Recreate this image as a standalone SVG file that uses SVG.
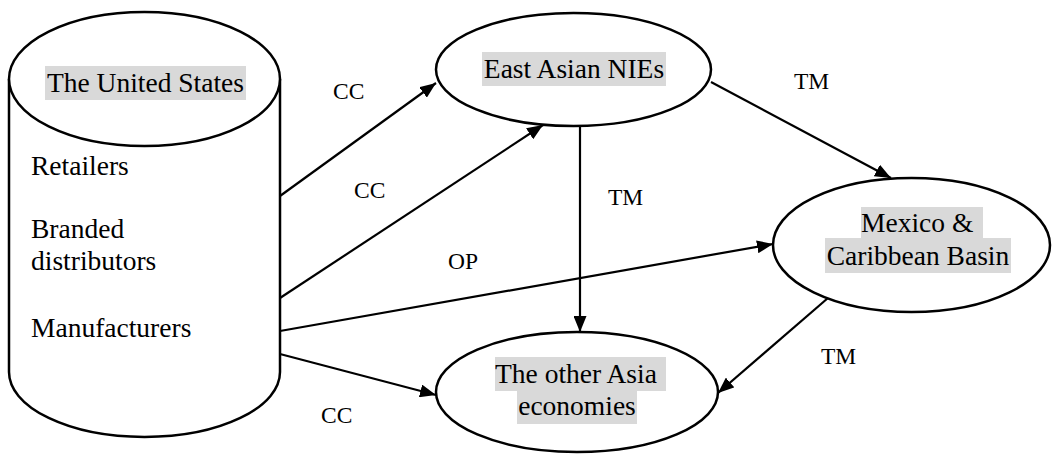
<svg xmlns="http://www.w3.org/2000/svg" width="1054" height="454" viewBox="0 0 1054 454">
  <style>
    .shape { fill: #ffffff; stroke: #000000; stroke-width: 2.5; }
    .hl { fill: #d9d9d9; stroke: none; }
    .nt { font-family: "Liberation Serif", "Times New Roman", serif; font-size: 27.5px; fill: #000000; }
    .lbl { font-family: "Liberation Serif", "Times New Roman", serif; font-size: 23.5px; fill: #000000; }
    .edge { fill: none; stroke: #000000; stroke-width: 2.2; marker-end: url(#arrow); }
  </style>
  <defs>
    <marker id="arrow" markerUnits="userSpaceOnUse" markerWidth="17" markerHeight="13" refX="16" refY="6.5" orient="auto">
      <path d="M0,0 L16,6.5 L0,13 z" fill="#000000"/>
    </marker>
  </defs>
  <rect width="1054" height="454" fill="#ffffff"/>

  <g id="connectors">
    <line class="edge" x1="280" y1="196" x2="436" y2="83"/>
    <line class="edge" x1="280" y1="298" x2="543" y2="125"/>
    <line class="edge" x1="280" y1="331" x2="773" y2="244"/>
    <line class="edge" x1="280" y1="354" x2="436" y2="395"/>
    <line class="edge" x1="580" y1="126" x2="580" y2="332"/>
    <line class="edge" x1="711" y1="82" x2="891" y2="178"/>
    <line class="edge" x1="828" y1="298" x2="718" y2="393"/>
  </g>

  <g id="node-us">
    <path class="shape" d="M9,79 L9,372 A135.5,65 0 0 0 280,372 L280,79"/>
    <ellipse class="shape" cx="144.5" cy="79" rx="135.5" ry="67"/>
    <rect class="hl" x="45" y="66" width="201" height="34"/>
    <text class="nt" x="145.5" y="92" text-anchor="middle">The United States</text>
    <text class="nt" x="31" y="175">Retailers</text>
    <text class="nt" x="31" y="238">Branded</text>
    <text class="nt" x="31" y="270">distributors</text>
    <text class="nt" x="31" y="337">Manufacturers</text>
  </g>

  <g id="node-eastasia">
    <ellipse class="shape" cx="573.5" cy="69.5" rx="137.5" ry="56.5"/>
    <rect class="hl" x="482" y="52" width="184" height="34"/>
    <text class="nt" x="574" y="78" text-anchor="middle">East Asian NIEs</text>
  </g>

  <g id="node-mexico">
    <ellipse class="shape" cx="911.5" cy="245" rx="138.5" ry="67"/>
    <rect class="hl" x="861" y="207" width="122" height="32"/>
    <rect class="hl" x="825" y="238" width="186" height="35"/>
    <text class="nt" x="861" y="232">Mexico &amp;</text>
    <text class="nt" x="918" y="265" text-anchor="middle">Caribbean Basin</text>
  </g>

  <g id="node-otherasia">
    <ellipse class="shape" cx="577" cy="392" rx="141" ry="60"/>
    <rect class="hl" x="495" y="357" width="171" height="34"/>
    <rect class="hl" x="517" y="390" width="120" height="34"/>
    <text class="nt" x="495" y="383">The other Asia</text>
    <text class="nt" x="577" y="415" text-anchor="middle">economies</text>
  </g>

  <g id="labels">
    <text class="lbl" x="333" y="99">CC</text>
    <text class="lbl" x="354" y="198">CC</text>
    <text class="lbl" x="448" y="269">OP</text>
    <text class="lbl" x="321" y="423">CC</text>
    <text class="lbl" x="794" y="89">TM</text>
    <text class="lbl" x="608" y="205">TM</text>
    <text class="lbl" x="821" y="364">TM</text>
  </g>
</svg>
